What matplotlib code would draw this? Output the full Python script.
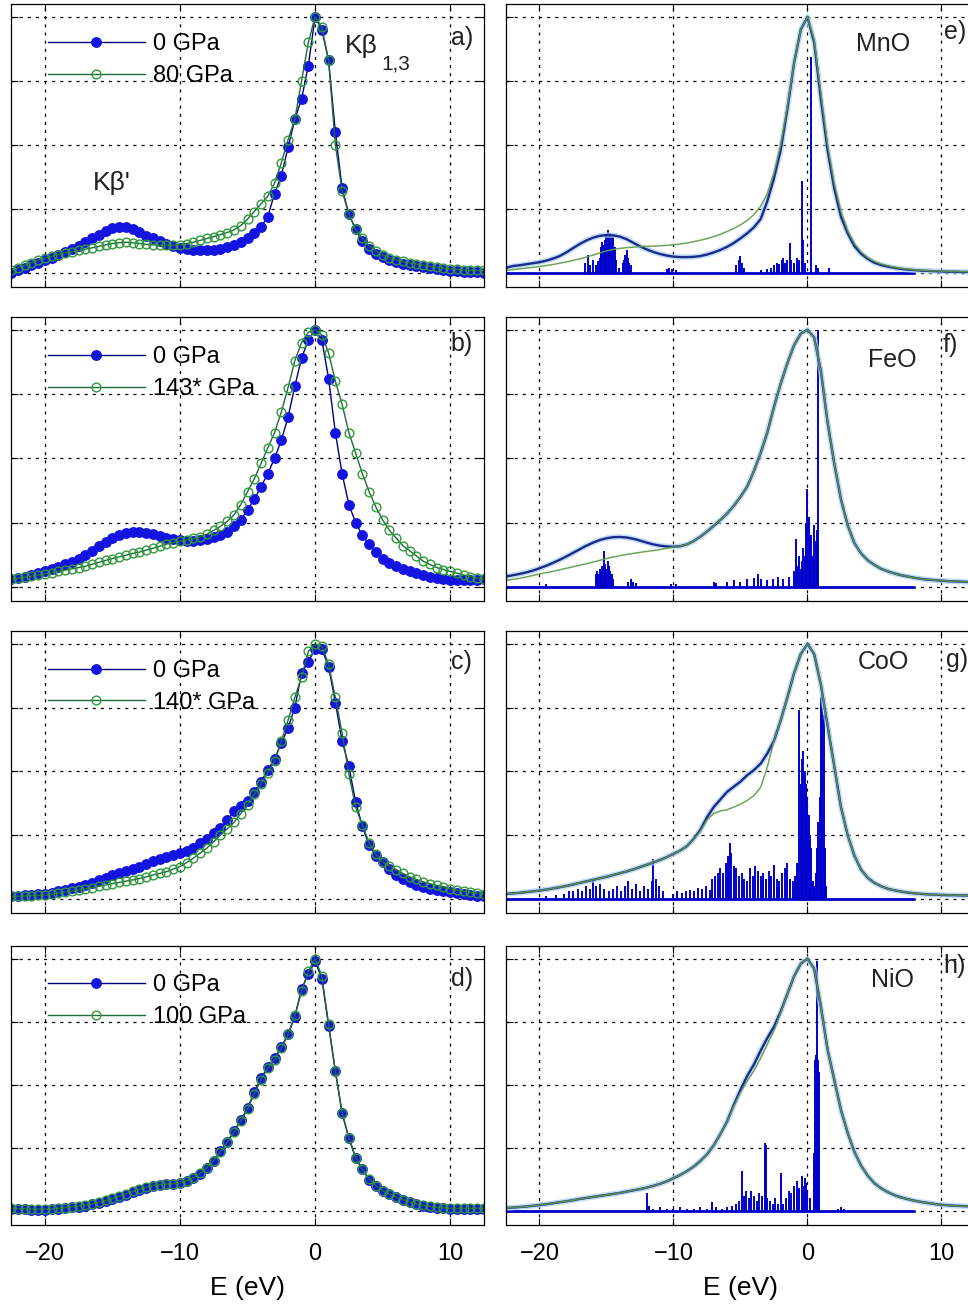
import numpy as np
import matplotlib.pyplot as plt

plt.rcParams['font.family'] = ['Liberation Sans', 'DejaVu Sans']

# energy grid (eV) shared by all spectra
energy = [-22.5, -22, -21.5, -21, -20.5, -20, -19.5, -19, -18.5, -18,
          -17.5, -17, -16.5, -16, -15.5, -15, -14.5, -14, -13.5, -13,
          -12.5, -12, -11.5, -11, -10.5, -10, -9.5, -9, -8.5, -8,
          -7.5, -7, -6.5, -6, -5.5, -5, -4.5, -4, -3.5, -3,
          -2.5, -2, -1.5, -1, -0.5, 0, 0.5, 1, 1.5, 2,
          2.5, 3, 3.5, 4, 4.5, 5, 5.5, 6, 6.5, 7,
          7.5, 8, 8.5, 9, 9.5, 10, 10.5, 11, 11.5, 12,
          12.5]

# ---- measured spectra (left column) ----
mno_0gpa = [0.0, 0.01, 0.02, 0.03, 0.04, 0.05, 0.06, 0.07, 0.08, 0.095,
            0.105, 0.12, 0.135, 0.15, 0.165, 0.175, 0.18, 0.18, 0.17, 0.16,
            0.145, 0.135, 0.125, 0.115, 0.105, 0.098, 0.093, 0.09, 0.088, 0.088,
            0.09, 0.093, 0.1, 0.11, 0.122, 0.138, 0.156, 0.18, 0.22, 0.31,
            0.38, 0.49, 0.6, 0.68, 0.81, 1.0, 0.95, 0.83, 0.55, 0.33,
            0.23, 0.17, 0.125, 0.095, 0.075, 0.062, 0.052, 0.044, 0.037, 0.03,
            0.026, 0.022, 0.018, 0.014, 0.011, 0.008, 0.006, 0.004, 0.003, 0.002,
            0.0]
mno_hp = [0.01, 0.02, 0.03, 0.04, 0.05, 0.058, 0.065, 0.072, 0.078, 0.083,
          0.088, 0.093, 0.098, 0.104, 0.11, 0.115, 0.118, 0.12, 0.118, 0.115,
          0.112, 0.11, 0.108, 0.108, 0.108, 0.11, 0.115, 0.12, 0.127, 0.135,
          0.142, 0.15, 0.158, 0.168, 0.185, 0.21, 0.24, 0.27, 0.3, 0.35,
          0.43, 0.52, 0.6, 0.75, 0.9, 1.0, 0.96, 0.83, 0.5, 0.32,
          0.23, 0.17, 0.135, 0.105, 0.085, 0.07, 0.06, 0.052, 0.045, 0.04,
          0.035, 0.03, 0.026, 0.022, 0.019, 0.016, 0.014, 0.012, 0.011, 0.01,
          0.01]
feo_0gpa = [0.03, 0.035, 0.04, 0.045, 0.052, 0.06, 0.068, 0.077, 0.087, 0.098,
            0.11, 0.125, 0.14, 0.158, 0.175, 0.19, 0.2, 0.208, 0.212, 0.212,
            0.21, 0.205, 0.198, 0.19, 0.185, 0.182, 0.18, 0.18, 0.182, 0.186,
            0.192, 0.2, 0.215, 0.235, 0.26, 0.3, 0.34, 0.39, 0.44, 0.5,
            0.57, 0.66, 0.78, 0.89, 0.96, 1.0, 0.96, 0.81, 0.6, 0.44,
            0.32, 0.25, 0.2, 0.165, 0.135, 0.11, 0.093, 0.08, 0.07, 0.06,
            0.052, 0.046, 0.04, 0.035, 0.03, 0.027, 0.025, 0.025, 0.025, 0.027,
            0.03]
feo_hp = [0.03, 0.033, 0.037, 0.041, 0.045, 0.05, 0.055, 0.06, 0.065, 0.07,
          0.075, 0.08, 0.088, 0.095, 0.103, 0.11, 0.117, 0.123, 0.13, 0.135,
          0.143, 0.15, 0.158, 0.166, 0.172, 0.177, 0.182, 0.188, 0.195, 0.205,
          0.22, 0.235, 0.255, 0.28, 0.32, 0.37, 0.42, 0.48, 0.54, 0.6,
          0.68, 0.775, 0.88, 0.95, 0.99, 1.0, 0.98, 0.91, 0.8, 0.71,
          0.6, 0.52, 0.44, 0.37, 0.31, 0.26, 0.22, 0.19, 0.16, 0.14,
          0.12, 0.1, 0.087, 0.075, 0.067, 0.06, 0.053, 0.046, 0.04, 0.035,
          0.03]
coo_0gpa = [0.01, 0.012, 0.014, 0.016, 0.018, 0.02, 0.025, 0.03, 0.036, 0.042,
            0.048, 0.055, 0.064, 0.074, 0.084, 0.095, 0.103, 0.111, 0.119, 0.127,
            0.137, 0.147, 0.157, 0.166, 0.173, 0.18, 0.19, 0.2, 0.218, 0.237,
            0.257, 0.277, 0.31, 0.343, 0.363, 0.383, 0.42, 0.46, 0.505, 0.55,
            0.61, 0.67, 0.75, 0.885, 0.93, 0.98, 0.98, 0.91, 0.77, 0.62,
            0.52, 0.38, 0.285, 0.21, 0.17, 0.145, 0.118, 0.095, 0.08, 0.067,
            0.056, 0.047, 0.04, 0.035, 0.031, 0.028, 0.024, 0.02, 0.016, 0.013,
            0.01]
coo_hp = [0.01, 0.011, 0.012, 0.013, 0.014, 0.015, 0.018, 0.022, 0.027, 0.031,
          0.035, 0.04, 0.045, 0.05, 0.055, 0.06, 0.065, 0.07, 0.075, 0.08,
          0.087, 0.094, 0.1, 0.107, 0.117, 0.127, 0.143, 0.16, 0.18, 0.2,
          0.225, 0.25, 0.275, 0.3, 0.335, 0.37, 0.41, 0.45, 0.495, 0.54,
          0.62, 0.7, 0.79, 0.87, 0.97, 1.0, 0.99, 0.92, 0.79, 0.65,
          0.49, 0.36, 0.29, 0.22, 0.175, 0.145, 0.13, 0.115, 0.1, 0.087,
          0.077, 0.067, 0.06, 0.053, 0.046, 0.04, 0.035, 0.03, 0.026, 0.023,
          0.02]
nio_0gpa = [0.01, 0.008, 0.007, 0.006, 0.006, 0.006, 0.007, 0.009, 0.012, 0.015,
            0.018, 0.022, 0.027, 0.033, 0.04, 0.047, 0.056, 0.065, 0.075, 0.084,
            0.093, 0.1, 0.104, 0.106, 0.108, 0.111, 0.118, 0.13, 0.147, 0.17,
            0.2, 0.237, 0.275, 0.316, 0.36, 0.407, 0.47, 0.526, 0.57, 0.605,
            0.65, 0.7, 0.77, 0.88, 0.94, 0.99, 0.92, 0.735, 0.553, 0.387,
            0.29, 0.21, 0.165, 0.125, 0.1, 0.08, 0.066, 0.055, 0.044, 0.035,
            0.028, 0.022, 0.018, 0.014, 0.012, 0.01, 0.01, 0.01, 0.01, 0.01,
            0.01]
nio_hp = [0.012, 0.01, 0.009, 0.008, 0.008, 0.008, 0.009, 0.011, 0.014, 0.017,
          0.02, 0.024, 0.029, 0.035, 0.042, 0.05, 0.059, 0.068, 0.078, 0.087,
          0.095, 0.101, 0.105, 0.107, 0.109, 0.112, 0.12, 0.132, 0.15, 0.172,
          0.2, 0.235, 0.272, 0.312, 0.356, 0.403, 0.465, 0.52, 0.565, 0.6,
          0.645, 0.7, 0.775, 0.87, 0.95, 1.0, 0.93, 0.74, 0.555, 0.39,
          0.29, 0.212, 0.166, 0.127, 0.1, 0.081, 0.067, 0.056, 0.045, 0.036,
          0.029, 0.023, 0.019, 0.015, 0.013, 0.011, 0.011, 0.011, 0.011, 0.011,
          0.011]

exp_labels = ['a)', 'b)', 'c)', 'd)']
hp_labels = ['80 GPa', '143* GPa', '140* GPa', '100 GPa']

# ---- calculated spectra (right column) ----
mno_calc_a = [0.02, 0.027, 0.03, 0.034, 0.038, 0.042, 0.048, 0.056, 0.066, 0.08,
              0.097, 0.113, 0.127, 0.138, 0.145, 0.148, 0.147, 0.142, 0.132, 0.118,
              0.104, 0.092, 0.082, 0.074, 0.068, 0.064, 0.062, 0.062, 0.063, 0.066,
              0.072, 0.08, 0.09, 0.102, 0.117, 0.135, 0.155, 0.178, 0.21, 0.28,
              0.37, 0.48, 0.64, 0.82, 0.95, 1.0, 0.9, 0.68, 0.48, 0.33,
              0.22, 0.155, 0.105, 0.075, 0.055, 0.04, 0.031, 0.025, 0.02, 0.016,
              0.013, 0.011, 0.009, 0.008, 0.007, 0.006, 0.005, 0.005, 0.004, 0.004,
              0.004]
mno_calc_b = [0.01, 0.013, 0.016, 0.019, 0.022, 0.025, 0.029, 0.033, 0.038, 0.043,
              0.049, 0.055, 0.062, 0.07, 0.078, 0.086, 0.092, 0.096, 0.099, 0.101,
              0.103, 0.104, 0.105, 0.106, 0.108, 0.11, 0.113, 0.117, 0.122, 0.128,
              0.134, 0.142, 0.151, 0.162, 0.174, 0.188, 0.205, 0.228, 0.26, 0.31,
              0.39, 0.5, 0.65, 0.82, 0.95, 1.0, 0.91, 0.7, 0.5, 0.35,
              0.24, 0.165, 0.115, 0.082, 0.06, 0.045, 0.035, 0.028, 0.022, 0.018,
              0.015, 0.012, 0.01, 0.009, 0.008, 0.007, 0.006, 0.006, 0.005, 0.005,
              0.005]
feo_calc_a = [0.04, 0.045, 0.05, 0.056, 0.063, 0.072, 0.082, 0.093, 0.105, 0.118,
              0.132, 0.146, 0.16, 0.172, 0.182, 0.189, 0.193, 0.194, 0.192, 0.187,
              0.18, 0.172, 0.165, 0.16, 0.157, 0.156, 0.158, 0.165, 0.178, 0.195,
              0.215, 0.237, 0.26, 0.285, 0.315, 0.35, 0.39, 0.45, 0.52, 0.6,
              0.7, 0.79, 0.87, 0.94, 0.985, 1.0, 0.97, 0.84, 0.64, 0.48,
              0.34, 0.24, 0.17, 0.13, 0.103, 0.085, 0.07, 0.06, 0.052, 0.045,
              0.04, 0.035, 0.031, 0.028, 0.026, 0.024, 0.022, 0.021, 0.02, 0.019,
              0.018]
feo_calc_b = [0.025, 0.029, 0.033, 0.038, 0.044, 0.05, 0.055, 0.06, 0.066, 0.072,
              0.078, 0.084, 0.09, 0.096, 0.103, 0.11, 0.116, 0.121, 0.126, 0.13,
              0.134, 0.138, 0.141, 0.145, 0.15, 0.155, 0.158, 0.165, 0.178, 0.195,
              0.215, 0.237, 0.26, 0.285, 0.315, 0.35, 0.39, 0.45, 0.52, 0.6,
              0.7, 0.79, 0.87, 0.94, 0.985, 1.0, 0.97, 0.84, 0.64, 0.48,
              0.34, 0.24, 0.17, 0.13, 0.103, 0.085, 0.07, 0.06, 0.052, 0.045,
              0.04, 0.035, 0.031, 0.028, 0.026, 0.024, 0.022, 0.021, 0.02, 0.019,
              0.018]
coo_calc_a = [0.02, 0.022, 0.024, 0.027, 0.03, 0.033, 0.037, 0.041, 0.046, 0.051,
              0.057, 0.063, 0.069, 0.075, 0.081, 0.087, 0.094, 0.101, 0.108, 0.116,
              0.125, 0.134, 0.143, 0.153, 0.164, 0.177, 0.19, 0.207, 0.235, 0.27,
              0.32, 0.36, 0.39, 0.42, 0.44, 0.46, 0.485, 0.505, 0.53, 0.57,
              0.62, 0.7, 0.79, 0.885, 0.96, 1.0, 0.96, 0.84, 0.68, 0.52,
              0.36, 0.25, 0.17, 0.115, 0.083, 0.063, 0.05, 0.04, 0.034, 0.029,
              0.025, 0.022, 0.02, 0.018, 0.017, 0.016, 0.015, 0.015, 0.014, 0.014,
              0.014]
coo_calc_b = [0.02, 0.022, 0.024, 0.027, 0.03, 0.033, 0.037, 0.041, 0.046, 0.051,
              0.057, 0.063, 0.069, 0.075, 0.081, 0.087, 0.094, 0.101, 0.108, 0.116,
              0.125, 0.134, 0.143, 0.153, 0.164, 0.177, 0.19, 0.207, 0.233, 0.265,
              0.31, 0.335, 0.345, 0.35, 0.36, 0.372, 0.386, 0.405, 0.437, 0.516,
              0.62, 0.7, 0.79, 0.885, 0.96, 1.0, 0.96, 0.84, 0.68, 0.52,
              0.36, 0.25, 0.17, 0.115, 0.083, 0.063, 0.05, 0.04, 0.034, 0.029,
              0.025, 0.022, 0.02, 0.018, 0.017, 0.016, 0.015, 0.015, 0.014, 0.014,
              0.014]
nio_calc_a = [0.012, 0.014, 0.016, 0.018, 0.021, 0.024, 0.027, 0.031, 0.035, 0.039,
              0.043, 0.048, 0.052, 0.056, 0.06, 0.064, 0.068, 0.072, 0.077, 0.082,
              0.087, 0.093, 0.1, 0.108, 0.118, 0.13, 0.143, 0.158, 0.176, 0.198,
              0.225, 0.26, 0.305, 0.355, 0.42, 0.48, 0.535, 0.58, 0.635, 0.685,
              0.73, 0.79, 0.86, 0.93, 0.98, 1.0, 0.96, 0.81, 0.64, 0.52,
              0.4, 0.31, 0.235, 0.18, 0.14, 0.11, 0.09, 0.075, 0.063, 0.054,
              0.047, 0.041, 0.036, 0.032, 0.028, 0.025, 0.023, 0.021, 0.02, 0.019,
              0.018]
nio_calc_b = [0.012, 0.014, 0.016, 0.018, 0.021, 0.024, 0.027, 0.031, 0.035, 0.039,
              0.043, 0.048, 0.052, 0.056, 0.06, 0.064, 0.068, 0.072, 0.077, 0.082,
              0.087, 0.093, 0.1, 0.108, 0.118, 0.13, 0.143, 0.158, 0.176, 0.198,
              0.225, 0.26, 0.305, 0.355, 0.415, 0.47, 0.515, 0.555, 0.605, 0.66,
              0.715, 0.785, 0.86, 0.93, 0.98, 1.0, 0.96, 0.81, 0.64, 0.52,
              0.4, 0.31, 0.235, 0.18, 0.14, 0.11, 0.09, 0.075, 0.063, 0.054,
              0.047, 0.041, 0.036, 0.032, 0.028, 0.025, 0.023, 0.021, 0.02, 0.019,
              0.018]

# stick (multiplet) spectra: positions and heights
mno_stick_e = [-16.6, -16.4, -16.2, -16.0, -15.8, -15.6, -15.5, -15.4, -15.3, -15.2,
               -15.1, -15.0, -14.9, -14.8, -14.7, -14.6, -14.5, -14.4, -14.3, -14.1,
               -13.8, -13.7, -13.6, -13.5, -13.4, -13.3, -13.2,
               -10.5, -10.3, -10.1, -9.8,
               -5.3, -5.1, -5.0, -4.9, -4.7,
               -3.5, -3.0, -2.7, -2.5, -2.3, -2.1, -1.9, -1.8, -1.7, -1.5,
               -1.3, -1.2, -1.0, -0.8, -0.6, -0.4, -0.3, -0.2, 0.3, 0.6, 0.8, 1.6]
mno_stick_h = [0.04, 0.07, 0.03, 0.05, 0.03, 0.045, 0.06, 0.1, 0.12, 0.11,
               0.13, 0.15, 0.168, 0.15, 0.156, 0.14, 0.15, 0.1, 0.05, 0.02,
               0.04, 0.05, 0.07, 0.09, 0.06, 0.04, 0.03,
               0.015, 0.02, 0.015, 0.01,
               0.03, 0.05, 0.065, 0.04, 0.02,
               0.01, 0.015, 0.02, 0.03, 0.04, 0.035, 0.05, 0.06, 0.04, 0.05,
               0.117, 0.05, 0.04, 0.06, 0.05, 0.36, 0.13, 0.04, 0.845, 0.03, 0.02, 0.02]
feo_stick_e = [-19.5,
               -15.8, -15.7, -15.6, -15.5, -15.4, -15.3, -15.2, -15.1, -15.0, -14.9,
               -14.8, -14.7, -14.6, -14.5,
               -13.4, -13.2, -13.0, -12.8, -10.2, -9.8,
               -7.0, -6.8, -6.0, -5.5, -5.0, -4.5, -4.0, -3.7, -3.5, -3.0,
               -2.6, -2.2, -1.8, -1.4,
               -1.0, -0.87, -0.75, -0.6, -0.5, -0.4, -0.3, -0.2, -0.1, 0.0,
               0.1, 0.2, 0.3, 0.4, 0.5, 0.6, 0.7, 0.8]
feo_stick_h = [0.01,
               0.05, 0.06, 0.05, 0.07, 0.06, 0.08, 0.14, 0.09, 0.07, 0.1,
               0.08, 0.06, 0.05, 0.03,
               0.02, 0.03, 0.02, 0.015, 0.01, 0.01,
               0.02, 0.015, 0.02, 0.025, 0.02, 0.03, 0.035, 0.05, 0.03, 0.025,
               0.03, 0.04, 0.03, 0.04,
               0.06, 0.186, 0.08, 0.12, 0.07, 0.1, 0.15, 0.12, 0.25, 0.38,
               0.27, 0.15, 0.2, 0.12, 0.24, 0.18, 0.22, 1.0]
coo_stick_e = [-19.5, -18.8, -18.2, -17.8, -17.5, -17.1, -16.8, -16.5, -16.2, -16.0,
               -15.8, -15.5, -15.2, -14.8, -14.5, -14.2, -13.9, -13.6, -13.4, -13.1,
               -12.8, -12.5, -12.2, -11.9, -11.6, -11.5, -11.3, -11.1, -10.8,
               -10.0, -9.7, -9.4, -9.1, -8.8, -8.5, -8.2, -7.9, -7.6, -7.3,
               -7.1, -6.9, -6.7, -6.5, -6.3, -6.1, -5.9, -5.8, -5.7, -5.5,
               -5.3, -5.1, -4.9, -4.7, -4.5, -4.3, -4.1, -3.9, -3.7, -3.5,
               -3.3, -3.1, -2.9, -2.7, -2.5, -2.3, -2.1, -1.9, -1.7, -1.5,
               -1.3, -1.1, -0.9, -0.75, -0.6, -0.5, -0.4, -0.3, -0.2, -0.1,
               0.0, 0.1, 0.2, 0.3, 0.4, 0.5, 0.6, 0.7, 0.8, 0.9,
               1.0, 1.1, 1.2, 1.3, 1.4]
coo_stick_h = [0.01, 0.015, 0.02, 0.03, 0.03, 0.04, 0.03, 0.05, 0.04, 0.08,
               0.05, 0.06, 0.04, 0.03, 0.04, 0.05, 0.03, 0.05, 0.07, 0.04,
               0.06, 0.03, 0.05, 0.04, 0.07, 0.157, 0.08, 0.05, 0.03,
               0.02, 0.03, 0.025, 0.03, 0.035, 0.03, 0.045, 0.04, 0.05, 0.035,
               0.08, 0.09, 0.1, 0.12, 0.1, 0.14, 0.17, 0.22, 0.18, 0.13,
               0.12, 0.09, 0.1, 0.08, 0.07, 0.12, 0.09, 0.13, 0.11, 0.09,
               0.1, 0.08, 0.11, 0.09, 0.135, 0.08, 0.07, 0.1, 0.12, 0.14,
               0.08, 0.07, 0.09, 0.14, 0.74, 0.45, 0.55, 0.58, 0.5, 0.45,
               0.4, 0.33, 0.25, 0.2, 0.07, 0.05, 0.1, 0.2, 0.3, 0.4,
               0.79, 0.75, 0.72, 0.2, 0.05]
nio_stick_e = [-12.0, -11.8, -11.5, -11.0, -10.5, -10.0, -9.5, -9.0, -8.5, -8.0,
               -7.5, -7.1, -6.8, -6.4, -6.0, -5.6, -5.3, -5.1, -4.9, -4.7,
               -4.6, -4.4, -4.2, -4.0, -3.8, -3.6, -3.4, -3.2, -3.1, -3.0,
               -2.8, -2.6, -2.4, -2.2, -2.0, -1.8, -1.6, -1.4, -1.2, -1.0,
               -0.8, -0.6, -0.4, -0.3, -0.2, -0.1, 0.0, 0.2, 0.45, 0.55,
               0.65, 0.72, 0.8, 0.85, 2.3, 2.5, 2.7]
nio_stick_h = [0.07, 0.02, 0.01, 0.015, 0.01, 0.01, 0.015, 0.01, 0.01, 0.015,
               0.01, 0.035, 0.015, 0.01, 0.015, 0.02, 0.03, 0.04, 0.16, 0.06,
               0.08, 0.05, 0.08, 0.06, 0.04, 0.07, 0.06, 0.27, 0.26, 0.05,
               0.04, 0.03, 0.05, 0.03, 0.15, 0.03, 0.05, 0.08, 0.07, 0.1,
               0.12, 0.09, 0.14, 0.1, 0.13, 0.11, 0.08, 0.05, 0.23, 0.6,
               0.62, 0.99, 0.6, 0.55, 0.01, 0.015, 0.01]

calc_names = ['MnO', 'FeO', 'CoO', 'NiO']
calc_labels = ['e)', 'f)', 'g)', 'h)']

exp_0 = [mno_0gpa, feo_0gpa, coo_0gpa, nio_0gpa]
exp_p = [mno_hp, feo_hp, coo_hp, nio_hp]
calc_a = [mno_calc_a, feo_calc_a, coo_calc_a, nio_calc_a]
calc_b = [mno_calc_b, feo_calc_b, coo_calc_b, nio_calc_b]
stick_e = [mno_stick_e, feo_stick_e, coo_stick_e, nio_stick_e]
stick_h = [mno_stick_h, feo_stick_h, coo_stick_h, nio_stick_h]

fig = plt.figure(figsize=(9.68, 13.09), dpi=100)

rows = [(0.7807, 0.2162), (0.5409, 0.2170), (0.3025, 0.2154), (0.0642, 0.2131)]
left_x, left_w = 0.0114, 0.4886
right_x, right_w = 0.5227, 0.4845

blue = '#1414e0'
navy = '#000080'
green = '#2f9a3c'
dkgreen = '#1f6b3a'
txt = '#222222'


def style_axes(ax, bottom):
    ax.set_xlim(-22.5, 12.5)
    ax.set_ylim(-0.055, 1.05)
    ax.set_xticks([-20, -10, 0, 10])
    ax.set_yticks([0, 0.25, 0.5, 0.75, 1.0])
    ax.set_yticklabels([])
    ax.grid(True, color='black', linestyle=(0, (2.5, 4)), linewidth=0.9)
    ax.tick_params(direction='in', top=True, right=True, length=5, width=0.8,
                   labelsize=17, pad=13)
    for s in ax.spines.values():
        s.set_linewidth(0.9)
    if bottom:
        ax.set_xlabel('E (eV)', fontsize=19, labelpad=8)
    else:
        ax.set_xticklabels([])


for i in range(4):
    y0, h = rows[i]

    # measured
    ax = fig.add_axes([left_x, y0, left_w, h])
    ax.plot(energy, exp_0[i], '-', color=navy, lw=1, marker='o', ms=6.8,
            mfc=blue, mec=blue, label='0 GPa')
    ax.plot(energy, exp_p[i], '-', color=dkgreen, lw=1, marker='o', ms=6.3,
            mfc='none', mec=green, mew=1, label=hp_labels[i])
    style_axes(ax, i == 3)
    ax.legend(loc='upper left', bbox_to_anchor=(0.078, 0.898), frameon=False,
              fontsize=17, handlelength=4.1, handletextpad=0.35, labelspacing=0.42,
              borderaxespad=0, borderpad=0, numpoints=1)
    ax.text(0.953, [0.88, 0.905, 0.89, 0.882][i], exp_labels[i],
            transform=ax.transAxes, fontsize=18, color=txt, ha='center', va='center')
    if i == 0:
        ax.text(0.705, 0.827, 'Kβ', transform=ax.transAxes, fontsize=19,
                color=txt, va='baseline')
        ax.text(0.782, 0.767, '1,3', transform=ax.transAxes, fontsize=15,
                color=txt, va='baseline')
        ax.text(0.173, 0.343, "Kβ'", transform=ax.transAxes, fontsize=19,
                color=txt, va='baseline')

    # calculated
    ax = fig.add_axes([right_x, y0, right_w, h])
    ax.hlines(0, -22.5, 8, color='#0000cc', lw=2)
    ax.vlines(stick_e[i], 0, stick_h[i], color='#0000cc', lw=1.4)
    ax.plot(energy, calc_a[i], color='#a8d0f0', lw=4, alpha=0.7)
    ax.plot(energy, calc_a[i], color='#1c2a8c', lw=1.7)
    ax.plot(energy, calc_b[i], color='#5f9a4a', lw=1.1, alpha=0.9)
    style_axes(ax, i == 3)
    ax.text([0.804, 0.823, 0.804, 0.825][i], [0.86, 0.85, 0.89, 0.878][i],
            calc_names[i], transform=ax.transAxes, fontsize=18, color=txt,
            ha='center', va='center')
    ax.text([0.957, 0.947, 0.962, 0.957][i], [0.9, 0.9, 0.897, 0.928][i],
            calc_labels[i], transform=ax.transAxes, fontsize=18, color=txt,
            ha='center', va='center')

fig.savefig('out.png', dpi=100)
